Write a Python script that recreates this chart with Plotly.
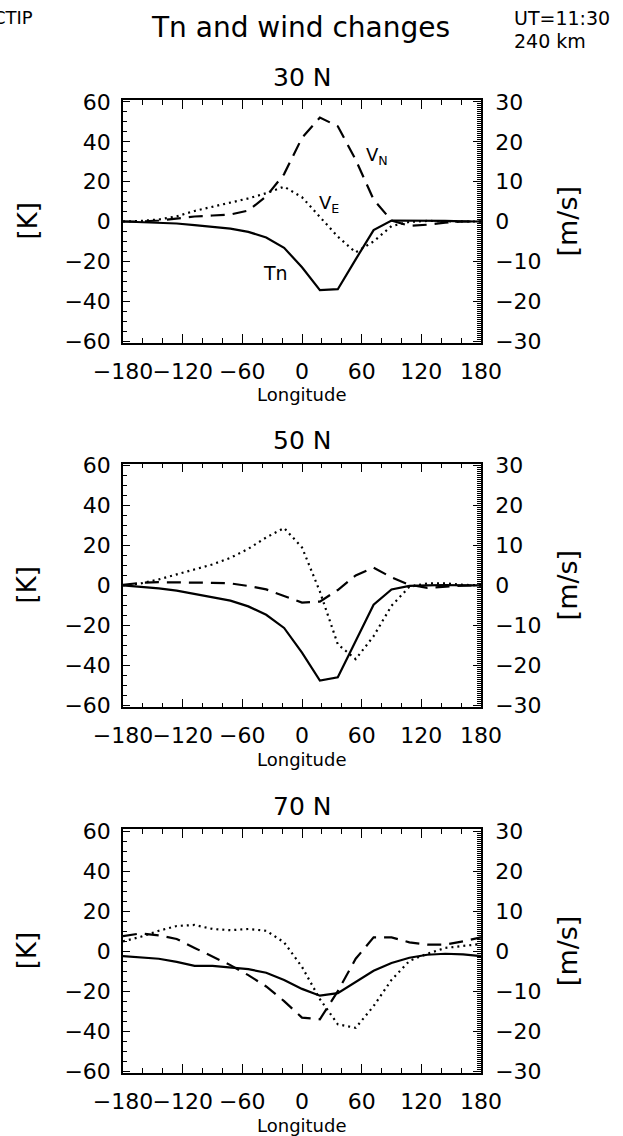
import plotly.graph_objects as go

# ---------------- data ----------------
lon = [-180, -162, -144, -126, -108, -90, -72, -54, -36, -18, 0,
       18, 36, 54, 72, 90, 108, 126, 144, 162, 180]

panel_titles = ["30 N", "50 N", "70 N"]

# Tn changes [K]
tn_30 = [0, -0.3, -0.6, -1.0, -1.8, -2.6, -3.6, -5.2, -8.0, -13.2, -23,
         -34.5, -34, -19, -4.3, 0.5, 0.5, 0.4, 0.3, 0.1, 0]
tn_50 = [0, -0.7, -1.5, -2.6, -4.3, -6.1, -7.6, -10.5, -14.7, -21.3, -33.6,
         -47.6, -46, -27.8, -9.7, -2, -0.2, 0, 0.2, 0, 0]
tn_70 = [-2.5, -3, -3.8, -5.4, -7.4, -7.4, -8.2, -9, -10.8, -14.4, -18.9,
         -22.3, -21, -15.6, -9.8, -5.9, -3.3, -1.8, -1.3, -1.6, -2.5]

# Northward wind changes V_N [m/s]
vn_30 = [0, 0, 0.25, 0.75, 1.25, 1.5, 1.75, 2.75, 6.3, 11.9, 21,
         26.1, 23.9, 15.5, 5.5, 0.25, -1.1, -0.8, -0.3, 0, 0]
vn_50 = [0.15, 0.65, 0.8, 0.8, 0.75, 0.65, 0.5, -0.15, -1, -2.65, -4.3,
         -4.05, -1.15, 2.5, 4.45, 2, 0.15, -0.6, -0.35, -0.05, 0]
vn_70 = [3.75, 4.45, 3.95, 3.05, 0.8, -1.25, -3.5, -6, -8.85, -12.5, -16.65,
         -17.05, -10, -1.9, 3.45, 3.45, 2.2, 1.65, 1.65, 2.45, 3.45]

# Eastward wind changes V_E [m/s]
ve_30 = [0, 0.15, 0.5, 1.3, 2.65, 3.65, 4.65, 5.8, 7.1, 8.75, 6.1,
         1.15, -3.8, -7.75, -5, -1.15, -0.1, 0.15, 0, 0, 0]
ve_50 = [0, 0.5, 1.5, 2.8, 3.95, 5.25, 6.9, 9.15, 12, 14.35, 9.5,
         -1.55, -14.75, -18.45, -12.7, -5.1, -0.35, 0.5, 0.5, 0.15, 0]
ve_70 = [2.45, 3.6, 5.1, 6.3, 6.55, 5.55, 5.25, 5.55, 5.1, 2.2, -3.95,
         -12, -18.3, -19.2, -13.75, -7.2, -2.45, -0.65, 0.8, 1.25, 1.8]

tn_all = [tn_30, tn_50, tn_70]
vn_all = [vn_30, vn_50, vn_70]
ve_all = [ve_30, ve_50, ve_70]

x_ticks = [-180, -120, -60, 0, 60, 120, 180]
k_ticks = [-60, -40, -20, 0, 20, 40, 60]
ms_ticks = [-30, -20, -10, 0, 10, 20, 30]

# ---------------- layout geometry ----------------
W, H = 623, 1136
ML, MR, MT, MB = 123, 142, 100, 63
PW = W - ML - MR
PH = H - MT - MB
FONT = "DejaVu Sans"

def px(x):
    return (x - ML) / PW

def py(y):
    return (H - MB - y) / PH

panel_px = [(100, 343), (463.5, 707.3), (829.3, 1073)]
domains = [[py(b), py(t)] for (t, b) in panel_px]

fig = go.Figure()
layout = dict(
    width=W, height=H,
    margin=dict(l=ML, r=MR, t=MT, b=MB, pad=0),
    paper_bgcolor="white", plot_bgcolor="white",
    showlegend=False,
    font=dict(family=FONT, color="black"),
)

annotations = []

for i in range(3):
    xa = "x" if i == 0 else f"x{i+1}"
    ya = f"y{2*i+1}" if i > 0 else "y"
    ya2 = f"y{2*i+2}"
    xname = "xaxis" if i == 0 else f"xaxis{i+1}"
    yname = "yaxis" if i == 0 else f"yaxis{2*i+1}"
    y2name = f"yaxis{2*i+2}"

    fig.add_trace(go.Scatter(x=lon, y=tn_all[i], mode="lines", xaxis=xa, yaxis=ya,
                             line=dict(color="black", width=2.2), name="Tn"))
    fig.add_trace(go.Scatter(x=lon, y=vn_all[i], mode="lines", xaxis=xa, yaxis=ya2,
                             line=dict(color="black", width=2.2, dash="14px,8px"), name="VN"))
    fig.add_trace(go.Scatter(x=lon, y=ve_all[i], mode="lines", xaxis=xa, yaxis=ya2,
                             line=dict(color="black", width=2.2, dash="2px,4px"), name="VE"))

    layout[xname] = dict(
        domain=[0, 1], anchor=ya, range=[-180, 180],
        tickvals=x_ticks, ticks="inside", ticklen=9, tickwidth=1.2, tickcolor="black",
        minor=dict(dtick=20, tick0=-180, ticks="inside", ticklen=5, tickwidth=1.2, tickcolor="black"),
        showline=True, linewidth=1.5, linecolor="black", mirror="ticks",
        showgrid=False, zeroline=False, tickangle=0,
        tickfont=dict(family=FONT, size=22, color="black"),
        ticklabelstandoff=8,
    )
    layout[yname] = dict(
        domain=domains[i], anchor=xa, range=[-61, 61],
        tickvals=k_ticks, ticks="inside", ticklen=7, tickwidth=1.2, tickcolor="black",
        minor=dict(dtick=5, tick0=0, ticks="inside", ticklen=4, tickwidth=1.2, tickcolor="black"),
        showline=True, linewidth=1.5, linecolor="black",
        showgrid=False, zeroline=False,
        tickfont=dict(family=FONT, size=22, color="black"),
        ticklabelstandoff=6,
    )
    layout[y2name] = dict(
        overlaying=ya, side="right", anchor=xa, range=[-30.5, 30.5],
        tickvals=ms_ticks, ticks="inside", ticklen=8, tickwidth=1.2, tickcolor="black",
        minor=dict(dtick=0.5, tick0=0, ticks="inside", ticklen=4, tickwidth=0.7, tickcolor="black"),
        showline=True, linewidth=1.5, linecolor="black",
        showgrid=False, zeroline=False,
        tickfont=dict(family=FONT, size=22, color="black"),
        ticklabelstandoff=8,
    )

    top, bot = panel_px[i]
    mid = (top + bot) / 2
    annotations.append(dict(text=panel_titles[i], x=px(302), y=py(top - 23), xref="paper", yref="paper",
                            showarrow=False, xanchor="center", yanchor="middle",
                            font=dict(family=FONT, size=25, color="black")))
    annotations.append(dict(text="Longitude", x=px(302), y=py(bot + 52), xref="paper", yref="paper",
                            showarrow=False, xanchor="center", yanchor="middle",
                            font=dict(family=FONT, size=18, color="black")))
    annotations.append(dict(text="[K]", x=px(27), y=py(mid), xref="paper", yref="paper",
                            showarrow=False, xanchor="center", yanchor="middle", textangle=-90,
                            font=dict(family=FONT, size=26, color="black")))
    annotations.append(dict(text="[m/s]", x=px(567), y=py(mid), xref="paper", yref="paper",
                            showarrow=False, xanchor="center", yanchor="middle", textangle=-90,
                            font=dict(family=FONT, size=27, color="black")))

# curve labels in the 30 N panel
annotations.append(dict(text="V<sub>N</sub>", x=62, y=33, xref="x", yref="y",
                        showarrow=False, xanchor="left", yanchor="middle",
                        font=dict(family=FONT, size=18, color="black")))
annotations.append(dict(text="V<sub>E</sub>", x=15, y=9, xref="x", yref="y",
                        showarrow=False, xanchor="left", yanchor="middle",
                        font=dict(family=FONT, size=18, color="black")))
annotations.append(dict(text="Tn", x=-27, y=-26, xref="x", yref="y",
                        showarrow=False, xanchor="center", yanchor="middle",
                        font=dict(family=FONT, size=19, color="black")))

# header texts
annotations.append(dict(text="Tn and wind changes", x=px(300), y=py(28), xref="paper", yref="paper",
                        showarrow=False, xanchor="center", yanchor="middle",
                        font=dict(family=FONT, size=28, color="black")))
annotations.append(dict(text="CTIP", x=px(35), y=py(18), xref="paper", yref="paper",
                        showarrow=False, xanchor="right", yanchor="middle",
                        font=dict(family=FONT, size=18, color="black")))
annotations.append(dict(text="UT=11:30", x=px(512), y=py(18), xref="paper", yref="paper",
                        showarrow=False, xanchor="left", yanchor="middle",
                        font=dict(family=FONT, size=19, color="black")))
annotations.append(dict(text="240 km", x=px(512), y=py(41), xref="paper", yref="paper",
                        showarrow=False, xanchor="left", yanchor="middle",
                        font=dict(family=FONT, size=19, color="black")))

layout["annotations"] = annotations
fig.update_layout(**layout)
fig.write_html("out.html", config={"displayModeBar": False},
               post_script="document.body.style.margin='0';")
